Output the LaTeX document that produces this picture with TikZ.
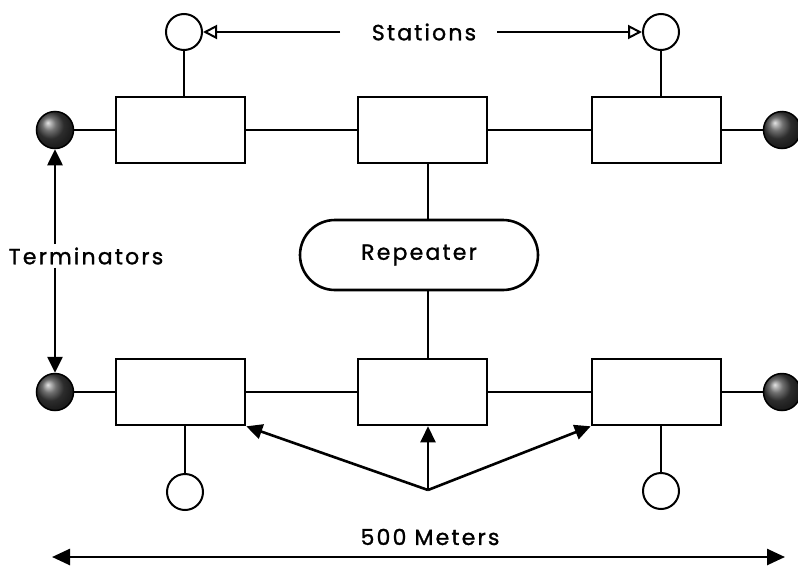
\documentclass[tikz,border=0pt]{standalone}
\usepackage{fontspec}
\setmainfont{Poppins}[LetterSpace=10,FakeBold=1.2]
\usetikzlibrary{arrows.meta,shapes.misc}
\begin{document}
\begin{tikzpicture}[x=1pt,y=-1pt,line width=2.6pt,
  stationbox/.style={draw,minimum width=129pt,minimum height=66pt,inner sep=0pt},
  station/.style={draw,circle,minimum size=36pt,inner sep=0pt,line width=2pt},
  term/.style={circle,minimum size=37pt,inner sep=0pt,draw=black,line width=1.5pt,ball color=gray!50!black,shading=ball},
  lbl/.style={font=\fontsize{22}{25}\selectfont,inner sep=2pt},
  tip/.style={-{Triangle[length=16pt,width=15pt]}},
  otip/.style={-{Triangle[open,length=14pt,width=14pt,line width=2pt]}}]
\useasboundingbox (0,0) rectangle (798,568);
% top row
\node[stationbox] (t1) at (180.5,130) {};
\node[stationbox] (t2) at (422.5,130) {};
\node[stationbox] (t3) at (656.5,130) {};
\node[term] (tl) at (55,130) {};
\node[term] (tr) at (782,130) {};
\node[station] (s1) at (184,32) {};
\node[station] (s2) at (661,32) {};
% bottom row
\node[stationbox] (b1) at (180.5,392) {};
\node[stationbox] (b2) at (422.5,392) {};
\node[stationbox] (b3) at (656.5,392) {};
\node[term] (bl) at (55,392) {};
\node[term] (br) at (782,392) {};
\node[station] (s3) at (185,492) {};
\node[station] (s4) at (661,491) {};
% repeater
\node[draw,rounded rectangle,minimum width=242pt,minimum height=70pt,lbl] (rep) at (419,255) {Repeater};
% bus lines
\draw (tl) -- (t1) -- (t2) -- (t3) -- (tr);
\draw (bl) -- (b1) -- (b2) -- (b3) -- (br);
\draw (s1) -- (s1 |- t1.north);
\draw (s2) -- (s2 |- t3.north);
\draw (s3) -- (s3 |- b1.south);
\draw (s4) -- (s4 |- b3.south);
\draw (t2.south -| 428,0) -- (rep.north -| 428,0);
\draw (rep.south -| 428,0) -- (b2.north -| 428,0);
% stations label
\node[lbl] (stl) at (424,32) {Stations};
\draw[otip] (340,32) -- (s1.east);
\draw[otip] (497,32) -- (s2.west);
% terminators label
\node[lbl] (tml) at (86,256) {Terminators};
\draw[tip] (tml.north -| tl) -- (tl.south);
\draw[tip] (tml.south -| bl) -- (bl.north);
% bottom arrows
\coordinate (fan) at (428,490);
\draw[tip] (fan) -- (b1.south east);
\draw[tip] (fan) -- (b2.south -| fan);
\draw[tip] (fan) -- (b3.south west);
% 500 meters
\node[lbl] (ml) at (430,537) {500 Meters};
\coordinate (ml0) at (52,557);
\coordinate (ml1) at (785,557);
\draw[{Triangle[length=18pt,width=16pt]}-{Triangle[length=18pt,width=16pt]}] (ml0) -- (ml1);
\end{tikzpicture}
\end{document}
